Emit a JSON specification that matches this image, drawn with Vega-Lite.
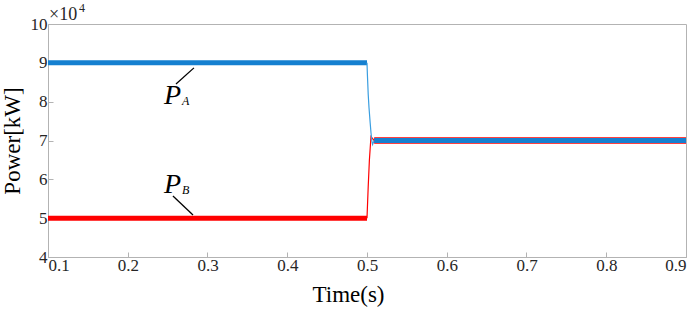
{
  "$schema": "https://vega.github.io/schema/vega-lite/v6.json",
  "width": 638,
  "height": 233,
  "autosize": {"type": "none"},
  "padding": {"left": 48, "top": 24, "right": 13, "bottom": 54},
  "background": "white",
  "config": {
    "view": {"stroke": "#b3b3b3", "strokeWidth": 1},
    "font": "Liberation Serif, serif"
  },
  "datasets": {
    "power": [
      {"s": "PA", "t": 0.1, "v": 9.0},
      {"s": "PA", "t": 0.5, "v": 9.0},
      {"s": "PA", "t": 0.5005, "v": 8.7},
      {"s": "PA", "t": 0.5015, "v": 8.2},
      {"s": "PA", "t": 0.5025, "v": 7.85},
      {"s": "PA", "t": 0.504, "v": 7.45},
      {"s": "PA", "t": 0.505, "v": 7.2},
      {"s": "PA", "t": 0.506, "v": 7.0},
      {"s": "PA", "t": 0.507, "v": 6.9},
      {"s": "PA", "t": 0.509, "v": 7.0},
      {"s": "PA", "t": 0.9, "v": 7.0},
      {"s": "PB", "t": 0.1, "v": 5.0},
      {"s": "PB", "t": 0.5, "v": 5.0},
      {"s": "PB", "t": 0.5015, "v": 5.8},
      {"s": "PB", "t": 0.503, "v": 6.5},
      {"s": "PB", "t": 0.504, "v": 6.8},
      {"s": "PB", "t": 0.505, "v": 7.1},
      {"s": "PB", "t": 0.507, "v": 7.05},
      {"s": "PB", "t": 0.509, "v": 7.0},
      {"s": "PB", "t": 0.9, "v": 7.0}
    ],
    "leaders": [
      {"s": "PA", "t": 0.283, "v": 8.87},
      {"s": "PA", "t": 0.2605, "v": 8.455},
      {"s": "PB", "t": 0.2567, "v": 5.57},
      {"s": "PB", "t": 0.2818, "v": 5.08}
    ],
    "labels": [
      {"s": "PA", "t": 0.2455, "v": 7.95, "main": "P", "sub": "A"},
      {"s": "PB", "t": 0.2455, "v": 5.65, "main": "P", "sub": "B"}
    ],
    "exponent": [
      {"t": 0.1, "v": 10, "base": "×10", "exp": "4"}
    ]
  },
  "encoding": {
    "x": {"field": "t", "type": "quantitative", "scale": {"domain": [0.1, 0.9], "nice": false},
      "axis": {"values": [0.1, 0.2, 0.3, 0.4, 0.5, 0.6, 0.7, 0.8, 0.9], "format": ".1f", "title": "Time(s)",
        "grid": false, "tickSize": -5, "tickColor": "#b3b3b3", "domainColor": "#b3b3b3", "labelOverlap": false,
        "labelFont": "Liberation Serif, serif", "labelFontSize": 17, "labelColor": "#262626",
        "titleFont": "Liberation Serif, serif", "titleFontSize": 23, "titleFontWeight": "normal", "titleColor": "#000000",
        "labelPadding": 5, "titlePadding": 10, "titleX": 300}},
    "y": {"field": "v", "type": "quantitative", "scale": {"domain": [4, 10], "nice": false},
      "axis": {"values": [4, 5, 6, 7, 8, 9, 10], "format": "d", "title": "Power[kW]",
        "grid": false, "tickSize": -5, "tickColor": "#b3b3b3", "domainColor": "#b3b3b3", "labelOverlap": false,
        "labelFont": "Liberation Serif, serif", "labelFontSize": 17, "labelColor": "#262626",
        "titleFont": "Liberation Serif, serif", "titleFontSize": 23, "titleFontWeight": "normal", "titleColor": "#000000",
        "labelPadding": 6, "titlePadding": 6}}
  },
  "layer": [
    {
      "data": {"name": "power"},
      "transform": [{"filter": "datum.s == 'PB' && datum.t <= 0.5"}],
      "mark": {"type": "line", "color": "#ff0000", "strokeWidth": 5}
    },
    {
      "data": {"name": "power"},
      "transform": [{"filter": "datum.s == 'PB' && datum.t >= 0.5 && datum.t <= 0.509"}],
      "mark": {"type": "line", "color": "#ff0000", "strokeWidth": 1.2}
    },
    {
      "data": {"name": "power"},
      "transform": [{"filter": "datum.s == 'PB' && datum.t >= 0.509"}],
      "mark": {"type": "line", "color": "#ff0000", "strokeWidth": 6.5}
    },
    {
      "data": {"name": "power"},
      "transform": [{"filter": "datum.s == 'PA' && datum.t <= 0.5"}],
      "mark": {"type": "line", "color": "#1580d0", "strokeWidth": 5}
    },
    {
      "data": {"name": "power"},
      "transform": [{"filter": "datum.s == 'PA' && datum.t >= 0.5 && datum.t <= 0.509"}],
      "mark": {"type": "line", "color": "#3a9ee0", "strokeWidth": 1.2}
    },
    {
      "data": {"name": "power"},
      "transform": [{"filter": "datum.s == 'PA' && datum.t >= 0.509"}],
      "mark": {"type": "line", "color": "#1580d0", "strokeWidth": 5}
    },
    {
      "data": {"name": "leaders"},
      "mark": {"type": "line", "color": "#000000", "strokeWidth": 1.3},
      "encoding": {"detail": {"field": "s"}}
    },
    {
      "data": {"name": "labels"},
      "mark": {"type": "text", "align": "left", "baseline": "alphabetic", "font": "Liberation Serif, serif", "fontStyle": "italic", "fontSize": 28, "color": "#000000"},
      "encoding": {"text": {"field": "main"}}
    },
    {
      "data": {"name": "labels"},
      "mark": {"type": "text", "align": "left", "baseline": "alphabetic", "font": "Liberation Serif, serif", "fontStyle": "italic", "fontSize": 12, "color": "#000000", "dx": 18, "dy": 1},
      "encoding": {"text": {"field": "sub"}}
    },
    {
      "data": {"name": "exponent"},
      "mark": {"type": "text", "align": "left", "baseline": "alphabetic", "font": "Liberation Serif, serif", "fontSize": 18, "color": "#262626", "dx": 1, "dy": -4},
      "encoding": {"text": {"field": "base"}}
    },
    {
      "data": {"name": "exponent"},
      "mark": {"type": "text", "align": "left", "baseline": "alphabetic", "font": "Liberation Serif, serif", "fontSize": 12, "color": "#262626", "dx": 31, "dy": -12},
      "encoding": {"text": {"field": "exp"}}
    }
  ]
}
